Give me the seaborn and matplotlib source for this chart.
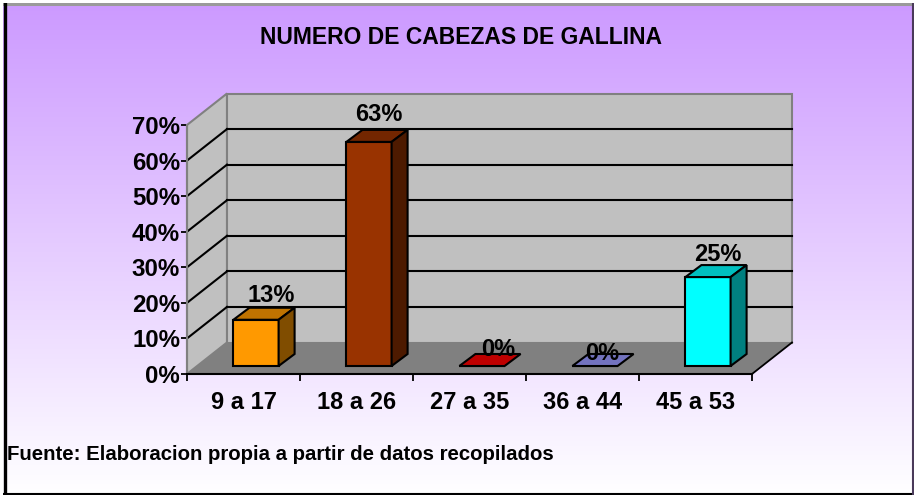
#!/usr/bin/env python
import matplotlib
matplotlib.use('Agg')
import numpy as np
import pandas as pd
import seaborn as sns
import matplotlib.pyplot as plt
from matplotlib.patches import Polygon, Rectangle
from matplotlib.transforms import Affine2D

categories = ['9 a 17', '18 a 26', '27 a 35', '36 a 44', '45 a 53']
values = [13, 63, 0, 0, 25]
value_labels = ['13%', '63%', '0%', '0%', '25%']
y_ticks = [0, 10, 20, 30, 40, 50, 60, 70]
y_tick_labels = ['0%', '10%', '20%', '30%', '40%', '50%', '60%', '70%']
title = 'NUMERO DE CABEZAS DE GALLINA'
source = 'Fuente: Elaboracion propia a partir de datos recopilados'

front_colors = ['#FF9900', '#993300', '#FF0000', '#9999FF', '#00FFFF']
top_colors = ['#BF7300', '#732600', '#BF0000', '#7373BF', '#00BFBF']
side_colors = ['#804D00', '#4D1A00', '#800000', '#4D4D80', '#008080']

# pixel offsets for the fake 3d look
wall_dx, wall_dy = 40, 31.5
bar_dx, bar_dy = 12.5, 8
depth_dx, depth_dy = 16, 12
label_dx = [15.5, 10, 16.5, 7.5, 10]
label_dy = [24, 27, 17, 12, 23]

W, H = 914, 495
plt.rcParams['font.family'] = ['Liberation Sans', 'DejaVu Sans']
fig = plt.figure(figsize=(W / 100, H / 100), dpi=100)

# background gradient
bg = fig.add_axes([0, 0, 1, 1], zorder=0)
grad = np.linspace(0, 1, 256).reshape(-1, 1)
cmap = matplotlib.colors.LinearSegmentedColormap.from_list('bg', ['#CC99FF', '#FFFFFF'])
bg.imshow(grad, aspect='auto', cmap=cmap, extent=[0, W, 0, H])
bg.set_xlim(0, W)
bg.set_ylim(0, H)
bg.axis('off')
# frame: grey on top, heavy black left, thin black bottom, dark right
bg.plot([3, W], [H - 3.5, H - 3.5], color='#9a9a9a', lw=2.2)
bg.plot([4.5, 4.5], [0, H - 3], color='black', lw=2.4)
bg.plot([0, W], [0.7, 0.7], color='black', lw=1.5)
bg.plot([W - 1, W - 1], [0, H - 4], color='#4a3a5a', lw=1.5)
bg.add_patch(Rectangle((0, 0), 3, H, fc='white', ec='none', zorder=4))
bg.add_patch(Rectangle((0, H - 2.5), W, 2.5, fc='white', ec='none', zorder=4))
bg.set_xlim(0, W)
bg.set_ylim(0, H)

ax = fig.add_axes([187 / W, (H - 374) / H, 565 / W, 249 / H], zorder=1)
ax.patch.set_alpha(0)
df = pd.DataFrame({'rango': categories, 'pct': values})
sns.barplot(data=df, x='rango', y='pct', hue='rango', palette=front_colors, legend=False, saturation=1,
            width=0.4, edgecolor='black', linewidth=1.5, ax=ax, zorder=5)
ax.set_xlim(-0.5, 4.5)
ax.set_ylim(0, 70)


def shift(dx, dy):
    return ax.transData + Affine2D().translate(dx, dy)


def poly(pts, tr, **kw):
    p = Polygon(pts, closed=True, transform=tr, clip_on=False, **kw)
    ax.add_patch(p)
    return p


# walls and floor, from the axis limits
x0, x1 = ax.get_xlim()
top = ax.get_ylim()[1]
to_px = ax.transData
pa = to_px.transform([(x0, 0), (x1, 0), (x0, top), (x1, top)])
inv = ax.transData.inverted()
back_x0, back_y0 = inv.transform(pa[0] + [wall_dx, wall_dy])
back_x1, back_y1 = inv.transform(pa[3] + [wall_dx, wall_dy])
poly([(x0, 0), (back_x0, back_y0), (back_x1, back_y0), (x1, 0)], ax.transData,
     fc='#808080', ec='none', zorder=1)
poly([(x0, 0), (back_x0, back_y0), (back_x0, back_y1), (x0, top)], ax.transData,
     fc='#C0C0C0', ec='#808080', lw=1.5, zorder=1)
poly([(back_x0, back_y0), (back_x1, back_y0), (back_x1, back_y1), (back_x0, back_y1)], ax.transData,
     fc='#C0C0C0', ec='#808080', lw=1.5, zorder=1)
ax.plot([x1, back_x1], [0, back_y0], color='black', lw=1.3, clip_on=False, zorder=2)

# gridlines on the back wall and their run along the side wall
for t in y_ticks[1:-1]:
    ax.plot([x0, x1], [t, t], transform=shift(wall_dx, wall_dy), color='black', lw=1.5, clip_on=False, zorder=2)
    a = to_px.transform((x0, t))
    b = inv.transform(a + [wall_dx, wall_dy])
    ax.plot([x0, b[0]], [t, b[1]], color='black', lw=1.5, clip_on=False, zorder=2)

# bars moved into their plane, with top and side faces
for i, bar in enumerate(ax.patches[:len(categories)]):
    bar.set_transform(shift(bar_dx, bar_dy))
    bar.set_clip_on(False)
    bx, bw, bh = bar.get_x(), bar.get_width(), bar.get_height()
    tl = np.array(to_px.transform((bx, bh))) + [bar_dx, bar_dy]
    tr = np.array(to_px.transform((bx + bw, bh))) + [bar_dx, bar_dy]
    br = np.array(to_px.transform((bx + bw, 0))) + [bar_dx, bar_dy]
    d = np.array([depth_dx, depth_dy])
    px = Affine2D()
    poly([tl, tr, tr + d, tl + d], px, fc=top_colors[i], ec='black', lw=1.5, zorder=6)
    if bh > 0:
        poly([br, tr, tr + d, br + d], px, fc=side_colors[i], ec='black', lw=1.5, zorder=6)
    cx = (tl[0] + tr[0]) / 2 + label_dx[i]
    cy = tr[1] + label_dy[i]
    ax.text(cx, cy, value_labels[i], transform=px, ha='center', va='center', fontsize=17,
            fontweight='bold', color='black', zorder=8, clip_on=False)

ax.set_xlabel('')
ax.set_ylabel('')
ax.set_yticks(y_ticks)
ax.set_yticklabels(y_tick_labels, fontsize=17.3, fontweight='bold')
ax.set_xticks([-0.5, 0.5, 1.5, 2.5, 3.5, 4.5])
ax.set_xticklabels([])
ax.set_xticks(range(5), categories, minor=True, fontsize=17, fontweight='bold')
ax.tick_params(axis='x', which='minor', length=0, pad=12)
ax.tick_params(axis='x', which='major', length=5, width=1.3, color='black')
ax.tick_params(axis='y', length=4, width=1.3, color='black', pad=1)
for s in ['top', 'right']:
    ax.spines[s].set_visible(False)
ax.spines['bottom'].set_linewidth(1.5)
ax.spines['left'].set_linewidth(1.5)
ax.spines['left'].set_color('#808080')
ax.spines['bottom'].set_zorder(3)

fig.text(461 / W, 1 - 38 / H, title, ha='center', va='center', fontsize=16.5, fontweight='bold')
fig.text(7 / W, 1 - 455 / H, source, ha='left', va='center', fontsize=14.7, fontweight='bold')

fig.savefig('out.png', dpi=100)
